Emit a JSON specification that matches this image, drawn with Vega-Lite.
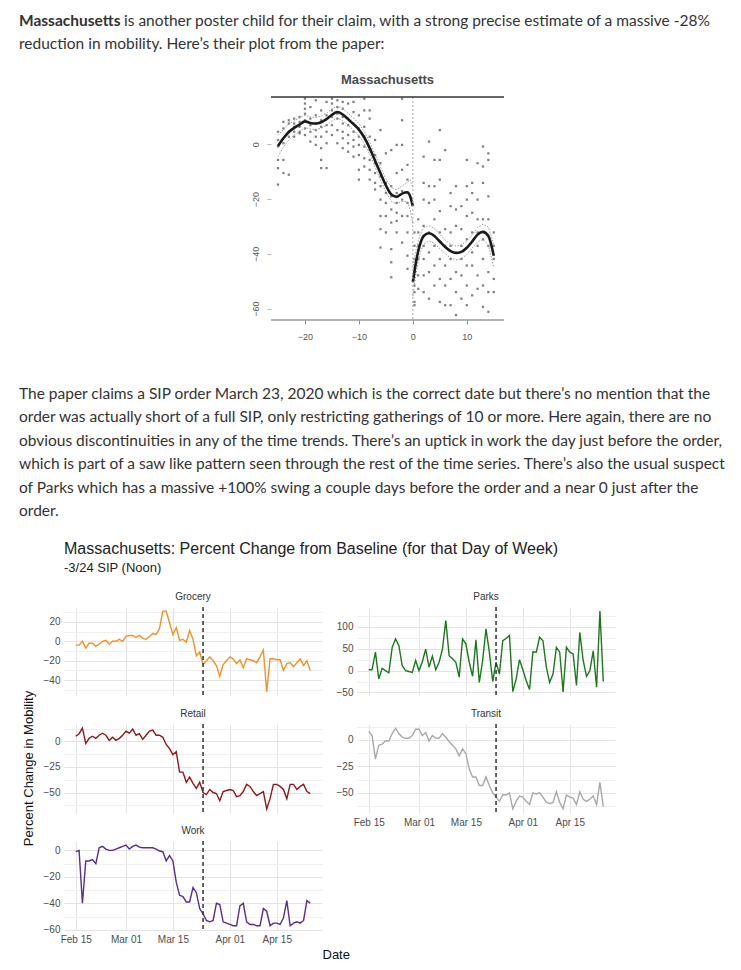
{
  "$schema": "https://vega.github.io/schema/vega-lite/v6.json",
  "background": "white",
  "padding": {"left": 19, "top": 9, "right": 5, "bottom": 5},
  "spacing": 18,
  "config": {
    "view": {"stroke": null},
    "axis": {"labelFont": "Liberation Sans", "titleFont": "Liberation Sans"},
    "title": {"font": "Liberation Sans", "subtitleFont": "Liberation Sans"}
  },
  "datasets": {
    "mob": [
      {"date": "2020-02-15", "Grocery": -4, "Parks": 2, "Retail": 5, "Transit": 8, "Work": -1},
      {"date": "2020-02-16", "Grocery": -4, "Parks": 2, "Retail": 7.5, "Transit": 4, "Work": 0},
      {"date": "2020-02-17", "Grocery": 0, "Parks": 42, "Retail": 13, "Transit": -18, "Work": -40},
      {"date": "2020-02-18", "Grocery": -7, "Parks": -19, "Retail": -2, "Transit": -5, "Work": -8},
      {"date": "2020-02-19", "Grocery": -2, "Parks": 5, "Retail": 3, "Transit": -4, "Work": -8},
      {"date": "2020-02-20", "Grocery": -2, "Parks": 0, "Retail": 5, "Transit": -1, "Work": -7},
      {"date": "2020-02-21", "Grocery": -5, "Parks": -5, "Retail": 3, "Transit": -1, "Work": -10},
      {"date": "2020-02-22", "Grocery": -3, "Parks": 53, "Retail": 6, "Transit": 6, "Work": 2},
      {"date": "2020-02-23", "Grocery": 0, "Parks": 72, "Retail": 8, "Transit": 11, "Work": 3},
      {"date": "2020-02-24", "Grocery": 1, "Parks": 57, "Retail": 6, "Transit": 6, "Work": 1},
      {"date": "2020-02-25", "Grocery": -3, "Parks": 11, "Retail": 1, "Transit": 2.5, "Work": 0},
      {"date": "2020-02-26", "Grocery": 0, "Parks": 0, "Retail": 4, "Transit": 1.5, "Work": 0},
      {"date": "2020-02-27", "Grocery": 0, "Parks": -2, "Retail": 1, "Transit": 1.5, "Work": 1},
      {"date": "2020-02-28", "Grocery": 2, "Parks": -4, "Retail": 3, "Transit": 4, "Work": 2},
      {"date": "2020-02-29", "Grocery": 0, "Parks": 23, "Retail": 6, "Transit": 10, "Work": 3},
      {"date": "2020-03-01", "Grocery": 5, "Parks": 0, "Retail": 10, "Transit": 10, "Work": 4},
      {"date": "2020-03-02", "Grocery": 6, "Parks": 20, "Retail": 8, "Transit": 4, "Work": 1},
      {"date": "2020-03-03", "Grocery": 6, "Parks": 49, "Retail": 12, "Transit": 7, "Work": 3},
      {"date": "2020-03-04", "Grocery": 4, "Parks": 8, "Retail": 6, "Transit": -1, "Work": 4},
      {"date": "2020-03-05", "Grocery": 6, "Parks": 33, "Retail": 7.5, "Transit": 4, "Work": 2.5},
      {"date": "2020-03-06", "Grocery": 3, "Parks": 2, "Retail": 2, "Transit": 1.5, "Work": 2},
      {"date": "2020-03-07", "Grocery": 2, "Parks": 19, "Retail": 6, "Transit": 1.5, "Work": 2},
      {"date": "2020-03-08", "Grocery": 5, "Parks": 49, "Retail": 10, "Transit": 6, "Work": 2},
      {"date": "2020-03-09", "Grocery": 8, "Parks": 114, "Retail": 11, "Transit": 2.5, "Work": 2},
      {"date": "2020-03-10", "Grocery": 7, "Parks": 34, "Retail": 6, "Transit": -1.5, "Work": 1},
      {"date": "2020-03-11", "Grocery": 13, "Parks": 27, "Retail": 6, "Transit": -5, "Work": -0.5},
      {"date": "2020-03-12", "Grocery": 31, "Parks": 19, "Retail": 4, "Transit": -8.5, "Work": -1},
      {"date": "2020-03-13", "Grocery": 31, "Parks": -15, "Retail": -3, "Transit": -15, "Work": -8},
      {"date": "2020-03-14", "Grocery": 19, "Parks": 72, "Retail": -7, "Transit": -8.5, "Work": -4},
      {"date": "2020-03-15", "Grocery": 7, "Parks": 61, "Retail": -13, "Transit": -13, "Work": -8},
      {"date": "2020-03-16", "Grocery": 14, "Parks": 19, "Retail": -10, "Transit": -27.5, "Work": -24},
      {"date": "2020-03-17", "Grocery": 1, "Parks": -13, "Retail": -30, "Transit": -35, "Work": -34},
      {"date": "2020-03-18", "Grocery": 2, "Parks": 70, "Retail": -30, "Transit": -35, "Work": -35},
      {"date": "2020-03-19", "Grocery": -1, "Parks": -27, "Retail": -40, "Transit": -43, "Work": -39},
      {"date": "2020-03-20", "Grocery": 11, "Parks": 23, "Retail": -35, "Transit": -43, "Work": -39},
      {"date": "2020-03-21", "Grocery": 2, "Parks": 95, "Retail": -41, "Transit": -35, "Work": -28},
      {"date": "2020-03-22", "Grocery": -15, "Parks": 42, "Retail": -46, "Transit": -43, "Work": -32},
      {"date": "2020-03-23", "Grocery": -11, "Parks": -25, "Retail": -40, "Transit": -50, "Work": -44},
      {"date": "2020-03-24", "Grocery": -24, "Parks": 19, "Retail": -50, "Transit": -54, "Work": -48},
      {"date": "2020-03-25", "Grocery": -20, "Parks": -8, "Retail": -52, "Transit": -58, "Work": -53},
      {"date": "2020-03-26", "Grocery": -16, "Parks": 68, "Retail": -47, "Transit": -52, "Work": -54},
      {"date": "2020-03-27", "Grocery": -20, "Parks": 73, "Retail": -50, "Transit": -52, "Work": -53},
      {"date": "2020-03-28", "Grocery": -25, "Parks": 80, "Retail": -51, "Transit": -50, "Work": -40},
      {"date": "2020-03-29", "Grocery": -36, "Parks": -48, "Retail": -58, "Transit": -65, "Work": -41},
      {"date": "2020-03-30", "Grocery": -24, "Parks": -19, "Retail": -49, "Transit": -58, "Work": -54},
      {"date": "2020-03-31", "Grocery": -20, "Parks": 25, "Retail": -48, "Transit": -53, "Work": -55},
      {"date": "2020-04-01", "Grocery": -16, "Parks": 2, "Retail": -47, "Transit": -54, "Work": -56},
      {"date": "2020-04-02", "Grocery": -18, "Parks": -23, "Retail": -48, "Transit": -58, "Work": -57},
      {"date": "2020-04-03", "Grocery": -23, "Parks": -43, "Retail": -54, "Transit": -61, "Work": -57},
      {"date": "2020-04-04", "Grocery": -19, "Parks": 43, "Retail": -53, "Transit": -50, "Work": -42},
      {"date": "2020-04-05", "Grocery": -27, "Parks": 42, "Retail": -49, "Transit": -51, "Work": -40},
      {"date": "2020-04-06", "Grocery": -18, "Parks": 76, "Retail": -42, "Transit": -50, "Work": -54},
      {"date": "2020-04-07", "Grocery": -19, "Parks": 68, "Retail": -44, "Transit": -54, "Work": -56},
      {"date": "2020-04-08", "Grocery": -20, "Parks": 8, "Retail": -49, "Transit": -59, "Work": -56},
      {"date": "2020-04-09", "Grocery": -22, "Parks": -27, "Retail": -53, "Transit": -60, "Work": -57},
      {"date": "2020-04-10", "Grocery": -16, "Parks": -8, "Retail": -51, "Transit": -59, "Work": -57},
      {"date": "2020-04-11", "Grocery": -9, "Parks": 53, "Retail": -49, "Transit": -49, "Work": -44},
      {"date": "2020-04-12", "Grocery": -52, "Parks": 42, "Retail": -66, "Transit": -59, "Work": -46},
      {"date": "2020-04-13", "Grocery": -18, "Parks": -49, "Retail": -56, "Transit": -65, "Work": -57},
      {"date": "2020-04-14", "Grocery": -18, "Parks": 53, "Retail": -42, "Transit": -52, "Work": -55},
      {"date": "2020-04-15", "Grocery": -19, "Parks": 42, "Retail": -42, "Transit": -54, "Work": -55},
      {"date": "2020-04-16", "Grocery": -19, "Parks": 38, "Retail": -44, "Transit": -55, "Work": -56},
      {"date": "2020-04-17", "Grocery": -30, "Parks": -34, "Retail": -47, "Transit": -61, "Work": -51},
      {"date": "2020-04-18", "Grocery": -23, "Parks": 87, "Retail": -56, "Transit": -49, "Work": -38},
      {"date": "2020-04-19", "Grocery": -22, "Parks": 23, "Retail": -42, "Transit": -56, "Work": -57},
      {"date": "2020-04-20", "Grocery": -26, "Parks": -13, "Retail": -42, "Transit": -58, "Work": -55},
      {"date": "2020-04-21", "Grocery": -22, "Parks": 0, "Retail": -47, "Transit": -56, "Work": -54},
      {"date": "2020-04-22", "Grocery": -18, "Parks": 45, "Retail": -44, "Transit": -53, "Work": -55},
      {"date": "2020-04-23", "Grocery": -25, "Parks": -38, "Retail": -42, "Transit": -61, "Work": -53},
      {"date": "2020-04-24", "Grocery": -20, "Parks": 136, "Retail": -49, "Transit": -40, "Work": -38},
      {"date": "2020-04-25", "Grocery": -30, "Parks": -25, "Retail": -51, "Transit": -63, "Work": -40}
    ],
    "pts": [
      {"t": -25, "v": [4.6, 1.6, -0.8, -5.7, -8.7, -14.7]},
      {"t": -24, "v": [8.2, 5.8, 0.4, -5.7, -10.5]},
      {"t": -23, "v": [8.8, 7.6, 4.6, 2.8, -11.1]},
      {"t": -22, "v": [9.4, 7.6, 6.4, 4.6, 2.8]},
      {"t": -21, "v": [10.0, 8.2, 6.4, 4.6, 4.0]},
      {"t": -20, "v": [16.7, 14.9, 13.0, 11.2, 8.8, 5.8, 3.4]},
      {"t": -19, "v": [13.6, 9.4, 7.0, 4.6, 1.0]},
      {"t": -18, "v": [16.1, 10.6, 7.6, 5.2, 2.8, -0.2]},
      {"t": -17, "v": [12.4, 8.8, 6.4, 2.8, -1.4, -5.7, -8.7]},
      {"t": -16, "v": [15.5, 10.6, 7.0, 4.6, 0.4, -8.7]},
      {"t": -15, "v": [16.7, 14.9, 12.4, 10.0, 7.0, 3.4]},
      {"t": -14, "v": [16.1, 13.6, 11.2, 9.4, 5.2, 0.4]},
      {"t": -13, "v": [15.5, 13.0, 10.0, 7.6, 4.6, 2.2, -1.4]},
      {"t": -12, "v": [14.9, 9.4, 7.0, 3.4, 0.4, -2.7]},
      {"t": -11, "v": [15.5, 11.8, 7.6, 4.6, 1.6, -0.8, -4.5]},
      {"t": -10, "v": [10.6, 5.8, 2.8, -0.2, -3.9, -9.3, -12.9]},
      {"t": -9, "v": [16.7, 12.4, 6.4, 2.8, -0.8, -5.1, -8.1]},
      {"t": -8, "v": [12.4, 9.4, 2.8, -2.1, -5.7, -9.3, -12.9]},
      {"t": -7, "v": [1.6, -3.9, -6.9, -10.5, -14.1, -16.5]},
      {"t": -6, "v": [5.2, -6.9, -11.7, -15.3, -20.2, -26.2, -31.0, -37.7]},
      {"t": -5, "v": [-3.3, -14.1, -17.8, -21.4, -26.2, -32.2]},
      {"t": -4, "v": [-2.1, -15.3, -19.0, -23.8, -28.6, -38.3, -43.1, -48.6]},
      {"t": -3, "v": [-0.2, -10.5, -17.8, -21.4, -25.0, -28.0, -32.2]},
      {"t": -2, "v": [16.7, 8.8, -0.2, -9.3, -17.1, -20.2, -26.2, -35.9]},
      {"t": -1, "v": [-7.5, -12.9, -17.8, -21.4, -26.2, -32.2, -40.7, -45.5]},
      {"t": 0.3, "v": [-32.2, -37.1, -41.9, -46.7, -51.6, -54.0, -57.6, -58.8]},
      {"t": 1, "v": [-27.4, -32.2, -37.1, -41.9, -47.9, -52.8]},
      {"t": 2, "v": [-4.5, -14.1, -20.2, -29.8, -37.1, -41.9, -47.9, -54.0]},
      {"t": 3, "v": [1.0, -15.3, -21.4, -32.2, -39.5, -46.7, -56.4]},
      {"t": 4, "v": [-5.7, -15.3, -20.2, -27.4, -37.1, -44.3, -51.6]},
      {"t": 5, "v": [5.2, -5.7, -12.9, -24.4, -32.2, -41.9, -49.2, -57.6]},
      {"t": 6, "v": [-2.1, -31.0, -37.1, -44.3, -51.6, -58.8]},
      {"t": 7, "v": [-17.8, -22.6, -32.2, -37.1, -41.9, -49.2, -58.8]},
      {"t": 8, "v": [-15.3, -23.8, -29.8, -39.5, -46.7, -54.0, -62.4]},
      {"t": 9, "v": [-22.6, -31.0, -37.1, -41.9, -47.9, -56.4]},
      {"t": 10, "v": [-5.7, -15.3, -20.2, -26.2, -34.7, -44.3, -51.6, -58.8]},
      {"t": 11, "v": [-14.1, -17.8, -25.0, -32.2, -39.5, -44.3, -55.2]},
      {"t": 12, "v": [-6.9, -20.2, -27.4, -32.2, -37.1, -47.9, -52.8]},
      {"t": 13, "v": [-0.8, -8.1, -14.1, -27.4, -34.7, -41.9, -51.6, -59.4]},
      {"t": 14, "v": [-3.3, -5.7, -19.0, -27.4, -37.1, -46.7, -54.0, -61.2]},
      {"t": 15, "v": [-32.2, -37.1, -41.9, -49.2, -54.0]}
    ],
    "fit": [
      {"seg": "L", "t": -25, "fit": -0.6, "lo": -4.5, "hi": 3.3},
      {"seg": "L", "t": -24, "fit": 2.2, "lo": -1.0, "hi": 5.4},
      {"seg": "L", "t": -23, "fit": 4.5, "lo": 1.6, "hi": 7.4},
      {"seg": "L", "t": -22, "fit": 6.0, "lo": 3.4, "hi": 8.6},
      {"seg": "L", "t": -21, "fit": 7.2, "lo": 4.8, "hi": 9.6},
      {"seg": "L", "t": -20, "fit": 8.4, "lo": 6.1, "hi": 10.7},
      {"seg": "L", "t": -19, "fit": 7.8, "lo": 5.6, "hi": 10.0},
      {"seg": "L", "t": -18, "fit": 7.6, "lo": 5.4, "hi": 9.8},
      {"seg": "L", "t": -17, "fit": 8.1, "lo": 5.9, "hi": 10.3},
      {"seg": "L", "t": -16, "fit": 9.2, "lo": 7.0, "hi": 11.4},
      {"seg": "L", "t": -15, "fit": 10.8, "lo": 8.6, "hi": 13.0},
      {"seg": "L", "t": -14, "fit": 11.8, "lo": 9.6, "hi": 14.0},
      {"seg": "L", "t": -13, "fit": 10.9, "lo": 8.7, "hi": 13.1},
      {"seg": "L", "t": -12, "fit": 9.2, "lo": 7.0, "hi": 11.4},
      {"seg": "L", "t": -11, "fit": 7.4, "lo": 5.2, "hi": 9.6},
      {"seg": "L", "t": -10, "fit": 5.4, "lo": 3.2, "hi": 7.6},
      {"seg": "L", "t": -9, "fit": 2.5, "lo": 0.3, "hi": 4.7},
      {"seg": "L", "t": -8, "fit": -1.4, "lo": -3.6, "hi": 0.8},
      {"seg": "L", "t": -7, "fit": -6.0, "lo": -8.3, "hi": -3.7},
      {"seg": "L", "t": -6, "fit": -10.6, "lo": -12.9, "hi": -8.3},
      {"seg": "L", "t": -5, "fit": -15.0, "lo": -17.4, "hi": -12.6},
      {"seg": "L", "t": -4, "fit": -18.3, "lo": -20.8, "hi": -15.8},
      {"seg": "L", "t": -3, "fit": -19.2, "lo": -21.8, "hi": -16.6},
      {"seg": "L", "t": -2, "fit": -18.0, "lo": -20.8, "hi": -15.2},
      {"seg": "L", "t": -1, "fit": -17.5, "lo": -21.0, "hi": -14.0},
      {"seg": "L", "t": -0.5, "fit": -19.0, "lo": -24.0, "hi": -13.0},
      {"seg": "L", "t": 0, "fit": -22.6, "lo": -29.0, "hi": -16.0},
      {"seg": "R", "t": 0, "fit": -50.4, "lo": -55.5, "hi": -45.3},
      {"seg": "R", "t": 0.5, "fit": -44.0, "lo": -48.5, "hi": -39.5},
      {"seg": "R", "t": 1, "fit": -39.0, "lo": -42.8, "hi": -35.2},
      {"seg": "R", "t": 1.5, "fit": -35.5, "lo": -38.8, "hi": -32.2},
      {"seg": "R", "t": 2, "fit": -33.5, "lo": -36.5, "hi": -30.5},
      {"seg": "R", "t": 3, "fit": -32.5, "lo": -35.3, "hi": -29.7},
      {"seg": "R", "t": 4, "fit": -33.5, "lo": -36.2, "hi": -30.8},
      {"seg": "R", "t": 5, "fit": -35.5, "lo": -38.1, "hi": -32.9},
      {"seg": "R", "t": 6, "fit": -37.5, "lo": -40.0, "hi": -35.0},
      {"seg": "R", "t": 7, "fit": -39.0, "lo": -41.5, "hi": -36.5},
      {"seg": "R", "t": 8, "fit": -39.7, "lo": -42.2, "hi": -37.2},
      {"seg": "R", "t": 9, "fit": -39.3, "lo": -41.8, "hi": -36.8},
      {"seg": "R", "t": 10, "fit": -37.8, "lo": -40.3, "hi": -35.3},
      {"seg": "R", "t": 11, "fit": -35.5, "lo": -38.0, "hi": -33.0},
      {"seg": "R", "t": 12, "fit": -33.0, "lo": -35.6, "hi": -30.4},
      {"seg": "R", "t": 13, "fit": -32.0, "lo": -34.8, "hi": -29.2},
      {"seg": "R", "t": 14, "fit": -33.5, "lo": -36.8, "hi": -30.2},
      {"seg": "R", "t": 15, "fit": -40.7, "lo": -45.0, "hi": -36.4}
    ]
  },
  "vconcat": [
    {
      "width": 700,
      "height": {"step": 23.5},
      "layer": [
        {
          "data": {"values": [{"line": 1, "text": "Massachusetts"}]},
          "mark": {"type": "text", "align": "left", "baseline": "middle", "font": "Lato", "fontSize": 15.5, "fontWeight": "bold", "color": "#333"},
          "encoding": {
            "x": {"datum": 0, "type": "quantitative", "scale": {"domain": [0, 1]}, "axis": null},
            "y": {"field": "line", "type": "ordinal", "axis": null},
            "text": {"field": "text"}
          }
        },
        {
          "data": {"values": [{"line": 1, "text": "is another poster child for their claim, with a strong precise estimate of a massive -28%"}]},
          "mark": {"type": "text", "align": "left", "baseline": "middle", "font": "Lato", "fontSize": 15.5, "color": "#333", "dx": 105},
          "encoding": {
            "x": {"datum": 0, "type": "quantitative", "scale": {"domain": [0, 1]}, "axis": null},
            "y": {"field": "line", "type": "ordinal", "axis": null},
            "text": {"field": "text"}
          }
        },
        {
          "data": {"values": [{"line": 2, "text": "reduction in mobility. Here’s their plot from the paper:"}]},
          "mark": {"type": "text", "align": "left", "baseline": "middle", "font": "Lato", "fontSize": 15.5, "color": "#333"},
          "encoding": {
            "x": {"datum": 0, "type": "quantitative", "scale": {"domain": [0, 1]}, "axis": null},
            "y": {"field": "line", "type": "ordinal", "axis": null},
            "text": {"field": "text"}
          }
        }
      ]
    },
    {
      "spacing": 0,
      "hconcat": [
        {"width": 232, "height": 267, "data": {"values": []}, "mark": "point"},
        {
          "width": 233,
          "height": 223,
          "title": {"text": "Massachusetts", "fontSize": 13, "fontWeight": "bold", "color": "#4a4a4a", "offset": 9, "anchor": "middle"},
          "layer": [
            {
              "data": {"name": "pts"},
              "transform": [{"flatten": ["v"]}],
              "mark": {"type": "square", "size": 5, "color": "#3a3a3a", "opacity": 0.65},
              "encoding": {
                "x": {"field": "t", "type": "quantitative", "title": null,
                  "scale": {"domain": [-26.3, 16.9], "nice": false, "zero": false},
                  "axis": {"values": [-20, -10, 0, 10], "domain": false, "grid": false, "ticks": true, "tickSize": 4, "tickColor": "#888", "labelFontSize": 9, "labelColor": "#555", "labelPadding": 8}},
                "y": {"field": "v", "type": "quantitative", "title": null,
                  "scale": {"domain": [-64.2, 17.3], "nice": false, "zero": false},
                  "axis": {"values": [0, -20, -40, -60], "domain": false, "grid": false, "ticks": true, "tickSize": 4, "tickColor": "#bbb", "labelAngle": 270, "labelAlign": "center", "labelBaseline": "bottom", "labelFontSize": 9, "labelColor": "#555", "labelPadding": 7}}
              }
            },
            {
              "data": {"name": "fit"},
              "mark": {"type": "line", "color": "#9a9a9a", "strokeWidth": 1, "strokeDash": [1.5, 1.5]},
              "encoding": {
                "x": {"field": "t", "type": "quantitative", "title": null},
                "y": {"field": "lo", "type": "quantitative", "title": null},
                "detail": {"field": "seg"}
              }
            },
            {
              "data": {"name": "fit"},
              "mark": {"type": "line", "color": "#9a9a9a", "strokeWidth": 1, "strokeDash": [1.5, 1.5]},
              "encoding": {
                "x": {"field": "t", "type": "quantitative", "title": null},
                "y": {"field": "hi", "type": "quantitative", "title": null},
                "detail": {"field": "seg"}
              }
            },
            {
              "data": {"name": "fit"},
              "mark": {"type": "line", "color": "#1a1a1a", "strokeWidth": 2.6, "interpolate": "monotone"},
              "encoding": {
                "x": {"field": "t", "type": "quantitative", "title": null},
                "y": {"field": "fit", "type": "quantitative", "title": null},
                "detail": {"field": "seg"}
              }
            },
            {
              "data": {"values": [{}]},
              "mark": {"type": "rule", "color": "#aaa", "strokeDash": [2, 2], "strokeWidth": 1},
              "encoding": {"x": {"datum": 0, "type": "quantitative"}}
            },
            {
              "data": {"values": [{}]},
              "mark": {"type": "rule", "color": "#333", "strokeWidth": 1.5},
              "encoding": {"y": {"datum": 17.3, "type": "quantitative"}}
            },
            {
              "data": {"values": [{}]},
              "mark": {"type": "rule", "color": "#999", "strokeWidth": 1.5},
              "encoding": {"y": {"datum": -64.2, "type": "quantitative"}}
            }
          ]
        }
      ]
    },
    {
      "width": 700,
      "height": {"step": 23.5},
      "data": {"values": [
        {"line": 1, "text": "The paper claims a SIP order March 23, 2020 which is the correct date but there’s no mention that the"},
        {"line": 2, "text": "order was actually short of a full SIP, only restricting gatherings of 10 or more. Here again, there are no"},
        {"line": 3, "text": "obvious discontinuities in any of the time trends. There’s an uptick in work the day just before the order,"},
        {"line": 4, "text": "which is part of a saw like pattern seen through the rest of the time series. There’s also the usual suspect"},
        {"line": 5, "text": "of Parks which has a massive +100% swing a couple days before the order and a near 0 just after the"},
        {"line": 6, "text": "order."}
      ]},
      "mark": {"type": "text", "align": "left", "baseline": "middle", "font": "Lato", "fontSize": 15.5, "color": "#333"},
      "encoding": {
        "x": {"datum": 0, "type": "quantitative", "scale": {"domain": [0, 1]}, "axis": null},
        "y": {"field": "line", "type": "ordinal", "axis": null},
        "text": {"field": "text"}
      }
    },
    {
      "spacing": 4,
      "hconcat": [
        {
          "width": 20, "height": 323,
          "data": {"values": [{"t": "Percent Change in Mobility"}]},
          "mark": {"type": "text", "angle": 270, "fontSize": 13, "color": "#111", "font": "Liberation Sans"},
          "encoding": {"text": {"field": "t"}}
        },
        {
          "title": {"text": "Massachusetts: Percent Change from Baseline (for that Day of Week)", "subtitle": "-3/24 SIP (Noon)", "anchor": "start", "frame": "group", "fontSize": 16, "fontWeight": "normal", "color": "#222", "subtitleFontSize": 13, "subtitleColor": "#222", "subtitlePadding": 5, "offset": 17},
          "columns": 2,
          "spacing": {"row": 28, "column": 35},
          "bounds": "flush",
          "concat": [
            {
              "width": 258, "height": 89,
              "title": {"text": "Grocery", "fontSize": 10, "fontWeight": "normal", "color": "#333", "offset": 4},
              "data": {"name": "mob"},
              "layer": [
                {
                  "mark": {"type": "line", "color": "#f2922a", "strokeWidth": 1.4},
                  "encoding": {
                    "x": {"field": "date", "type": "temporal", "title": null,
                      "scale": {"type": "utc", "domain": [{"year": 2020, "month": 2, "date": 11, "hours": 12, "utc": true}, {"year": 2020, "month": 4, "date": 28, "hours": 12, "utc": true}]},
                      "axis": {"values": [{"year": 2020, "month": 2, "date": 15, "utc": true}, {"year": 2020, "month": 2, "date": 22, "hours": 12, "utc": true}, {"year": 2020, "month": 3, "date": 1, "utc": true}, {"year": 2020, "month": 3, "date": 8, "utc": true}, {"year": 2020, "month": 3, "date": 15, "utc": true}, {"year": 2020, "month": 3, "date": 23, "hours": 12, "utc": true}, {"year": 2020, "month": 4, "date": 1, "utc": true}, {"year": 2020, "month": 4, "date": 8, "utc": true}, {"year": 2020, "month": 4, "date": 15, "utc": true}, {"year": 2020, "month": 4, "date": 22, "utc": true}],
                        "labels": false, "ticks": false, "domain": false,
                        "gridColor": {"condition": {"test": "utcdate(datum.value) === 1 || utcdate(datum.value) === 15", "value": "#e4e4e4"}, "value": "#f0f0f0"}}},
                    "y": {"field": "Grocery", "type": "quantitative", "title": null,
                      "scale": {"domain": [-56.2, 35.2], "nice": false, "zero": false},
                      "axis": {"values": [-50, -40, -30, -20, -10, 0, 10, 20, 30], "labelExpr": "datum.value % 20 === 0 ? datum.label : ''", "domain": false, "ticks": false, "labelFontSize": 10, "labelColor": "#4d4d4d", "labelPadding": 4,
                        "gridColor": {"condition": {"test": "datum.value % 20 === 0", "value": "#e4e4e4"}, "value": "#f0f0f0"}}}
                  }
                },
                {
                  "data": {"values": [{}]},
                  "mark": {"type": "rule", "color": "#333", "strokeDash": [4, 3], "strokeWidth": 1.5},
                  "encoding": {"x": {"datum": {"year": 2020, "month": 3, "date": 24, "utc": true}, "type": "temporal"}}
                }
              ]
            },
            {
              "width": 258, "height": 89,
              "title": {"text": "Parks", "fontSize": 10, "fontWeight": "normal", "color": "#333", "offset": 4},
              "data": {"name": "mob"},
              "layer": [
                {
                  "mark": {"type": "line", "color": "#1b7a1b", "strokeWidth": 1.4},
                  "encoding": {
                    "x": {"field": "date", "type": "temporal", "title": null,
                      "scale": {"type": "utc", "domain": [{"year": 2020, "month": 2, "date": 11, "hours": 12, "utc": true}, {"year": 2020, "month": 4, "date": 28, "hours": 12, "utc": true}]},
                      "axis": {"values": [{"year": 2020, "month": 2, "date": 15, "utc": true}, {"year": 2020, "month": 2, "date": 22, "hours": 12, "utc": true}, {"year": 2020, "month": 3, "date": 1, "utc": true}, {"year": 2020, "month": 3, "date": 8, "utc": true}, {"year": 2020, "month": 3, "date": 15, "utc": true}, {"year": 2020, "month": 3, "date": 23, "hours": 12, "utc": true}, {"year": 2020, "month": 4, "date": 1, "utc": true}, {"year": 2020, "month": 4, "date": 8, "utc": true}, {"year": 2020, "month": 4, "date": 15, "utc": true}, {"year": 2020, "month": 4, "date": 22, "utc": true}],
                        "labels": false, "ticks": false, "domain": false,
                        "gridColor": {"condition": {"test": "utcdate(datum.value) === 1 || utcdate(datum.value) === 15", "value": "#e4e4e4"}, "value": "#f0f0f0"}}},
                    "y": {"field": "Parks", "type": "quantitative", "title": null,
                      "scale": {"domain": [-58, 145], "nice": false, "zero": false},
                      "axis": {"values": [-50, -25, 0, 25, 50, 75, 100, 125], "labelExpr": "datum.value % 50 === 0 ? datum.label : ''", "domain": false, "ticks": false, "labelFontSize": 10, "labelColor": "#4d4d4d", "labelPadding": 4,
                        "gridColor": {"condition": {"test": "datum.value % 50 === 0", "value": "#e4e4e4"}, "value": "#f0f0f0"}}}
                  }
                },
                {
                  "data": {"values": [{}]},
                  "mark": {"type": "rule", "color": "#333", "strokeDash": [4, 3], "strokeWidth": 1.5},
                  "encoding": {"x": {"datum": {"year": 2020, "month": 3, "date": 24, "utc": true}, "type": "temporal"}}
                }
              ]
            },
            {
              "width": 258, "height": 89,
              "title": {"text": "Retail", "fontSize": 10, "fontWeight": "normal", "color": "#333", "offset": 4},
              "data": {"name": "mob"},
              "layer": [
                {
                  "mark": {"type": "line", "color": "#8e1a1a", "strokeWidth": 1.4},
                  "encoding": {
                    "x": {"field": "date", "type": "temporal", "title": null,
                      "scale": {"type": "utc", "domain": [{"year": 2020, "month": 2, "date": 11, "hours": 12, "utc": true}, {"year": 2020, "month": 4, "date": 28, "hours": 12, "utc": true}]},
                      "axis": {"values": [{"year": 2020, "month": 2, "date": 15, "utc": true}, {"year": 2020, "month": 2, "date": 22, "hours": 12, "utc": true}, {"year": 2020, "month": 3, "date": 1, "utc": true}, {"year": 2020, "month": 3, "date": 8, "utc": true}, {"year": 2020, "month": 3, "date": 15, "utc": true}, {"year": 2020, "month": 3, "date": 23, "hours": 12, "utc": true}, {"year": 2020, "month": 4, "date": 1, "utc": true}, {"year": 2020, "month": 4, "date": 8, "utc": true}, {"year": 2020, "month": 4, "date": 15, "utc": true}, {"year": 2020, "month": 4, "date": 22, "utc": true}],
                        "labels": false, "ticks": false, "domain": false,
                        "gridColor": {"condition": {"test": "utcdate(datum.value) === 1 || utcdate(datum.value) === 15", "value": "#e4e4e4"}, "value": "#f0f0f0"}}},
                    "y": {"field": "Retail", "type": "quantitative", "title": null,
                      "scale": {"domain": [-70, 17], "nice": false, "zero": false},
                      "axis": {"values": [-62.5, -50, -37.5, -25, -12.5, 0, 12.5], "labelExpr": "datum.value % 25 === 0 ? datum.label : ''", "domain": false, "ticks": false, "labelFontSize": 10, "labelColor": "#4d4d4d", "labelPadding": 4,
                        "gridColor": {"condition": {"test": "datum.value % 25 === 0", "value": "#e4e4e4"}, "value": "#f0f0f0"}}}
                  }
                },
                {
                  "data": {"values": [{}]},
                  "mark": {"type": "rule", "color": "#333", "strokeDash": [4, 3], "strokeWidth": 1.5},
                  "encoding": {"x": {"datum": {"year": 2020, "month": 3, "date": 24, "utc": true}, "type": "temporal"}}
                }
              ]
            },
            {
              "width": 258, "height": 89,
              "title": {"text": "Transit", "fontSize": 10, "fontWeight": "normal", "color": "#333", "offset": 4},
              "data": {"name": "mob"},
              "layer": [
                {
                  "mark": {"type": "line", "color": "#a9a9a9", "strokeWidth": 1.4},
                  "encoding": {
                    "x": {"field": "date", "type": "temporal", "title": null,
                      "scale": {"type": "utc", "domain": [{"year": 2020, "month": 2, "date": 11, "hours": 12, "utc": true}, {"year": 2020, "month": 4, "date": 28, "hours": 12, "utc": true}]},
                      "axis": {"values": [{"year": 2020, "month": 2, "date": 15, "utc": true}, {"year": 2020, "month": 2, "date": 22, "hours": 12, "utc": true}, {"year": 2020, "month": 3, "date": 1, "utc": true}, {"year": 2020, "month": 3, "date": 8, "utc": true}, {"year": 2020, "month": 3, "date": 15, "utc": true}, {"year": 2020, "month": 3, "date": 23, "hours": 12, "utc": true}, {"year": 2020, "month": 4, "date": 1, "utc": true}, {"year": 2020, "month": 4, "date": 8, "utc": true}, {"year": 2020, "month": 4, "date": 15, "utc": true}, {"year": 2020, "month": 4, "date": 22, "utc": true}],
                        "format": "%b %d", "labelExpr": "utcdate(datum.value) === 1 || utcdate(datum.value) === 15 ? datum.label : ''", "labelOverlap": false, "labelFlush": false,
                        "labelFontSize": 10, "labelColor": "#4d4d4d", "labelPadding": 4, "ticks": false, "domain": false,
                        "gridColor": {"condition": {"test": "utcdate(datum.value) === 1 || utcdate(datum.value) === 15", "value": "#e4e4e4"}, "value": "#f0f0f0"}}},
                    "y": {"field": "Transit", "type": "quantitative", "title": null,
                      "scale": {"domain": [-69, 15], "nice": false, "zero": false},
                      "axis": {"values": [-62.5, -50, -37.5, -25, -12.5, 0, 12.5], "labelExpr": "datum.value % 25 === 0 ? datum.label : ''", "domain": false, "ticks": false, "labelFontSize": 10, "labelColor": "#4d4d4d", "labelPadding": 4,
                        "gridColor": {"condition": {"test": "datum.value % 25 === 0", "value": "#e4e4e4"}, "value": "#f0f0f0"}}}
                  }
                },
                {
                  "data": {"values": [{}]},
                  "mark": {"type": "rule", "color": "#333", "strokeDash": [4, 3], "strokeWidth": 1.5},
                  "encoding": {"x": {"datum": {"year": 2020, "month": 3, "date": 24, "utc": true}, "type": "temporal"}}
                }
              ]
            },
            {
              "width": 258, "height": 89,
              "title": {"text": "Work", "fontSize": 10, "fontWeight": "normal", "color": "#333", "offset": 4},
              "data": {"name": "mob"},
              "layer": [
                {
                  "mark": {"type": "line", "color": "#5a2d91", "strokeWidth": 1.4},
                  "encoding": {
                    "x": {"field": "date", "type": "temporal",
                      "scale": {"type": "utc", "domain": [{"year": 2020, "month": 2, "date": 11, "hours": 12, "utc": true}, {"year": 2020, "month": 4, "date": 28, "hours": 12, "utc": true}]},
                      "axis": {"title": "Date", "titleFontSize": 13, "titleFontWeight": "normal", "titleColor": "#111", "titleAnchor": "end", "titleAlign": "left", "titlePadding": 4,
                        "values": [{"year": 2020, "month": 2, "date": 15, "utc": true}, {"year": 2020, "month": 2, "date": 22, "hours": 12, "utc": true}, {"year": 2020, "month": 3, "date": 1, "utc": true}, {"year": 2020, "month": 3, "date": 8, "utc": true}, {"year": 2020, "month": 3, "date": 15, "utc": true}, {"year": 2020, "month": 3, "date": 23, "hours": 12, "utc": true}, {"year": 2020, "month": 4, "date": 1, "utc": true}, {"year": 2020, "month": 4, "date": 8, "utc": true}, {"year": 2020, "month": 4, "date": 15, "utc": true}, {"year": 2020, "month": 4, "date": 22, "utc": true}],
                        "format": "%b %d", "labelExpr": "utcdate(datum.value) === 1 || utcdate(datum.value) === 15 ? datum.label : ''", "labelOverlap": false, "labelFlush": false,
                        "labelFontSize": 10, "labelColor": "#4d4d4d", "labelPadding": 4, "ticks": false, "domain": false,
                        "gridColor": {"condition": {"test": "utcdate(datum.value) === 1 || utcdate(datum.value) === 15", "value": "#e4e4e4"}, "value": "#f0f0f0"}}},
                    "y": {"field": "Work", "type": "quantitative", "title": null,
                      "scale": {"domain": [-60.2, 7.1], "nice": false, "zero": false},
                      "axis": {"values": [-60, -50, -40, -30, -20, -10, 0], "labelExpr": "datum.value % 20 === 0 ? datum.label : ''", "domain": false, "ticks": false, "labelFontSize": 10, "labelColor": "#4d4d4d", "labelPadding": 4,
                        "gridColor": {"condition": {"test": "datum.value % 20 === 0", "value": "#e4e4e4"}, "value": "#f0f0f0"}}}
                  }
                },
                {
                  "data": {"values": [{}]},
                  "mark": {"type": "rule", "color": "#333", "strokeDash": [4, 3], "strokeWidth": 1.5},
                  "encoding": {"x": {"datum": {"year": 2020, "month": 3, "date": 24, "utc": true}, "type": "temporal"}}
                }
              ]
            }
          ]
        }
      ]
    }
  ]
}
